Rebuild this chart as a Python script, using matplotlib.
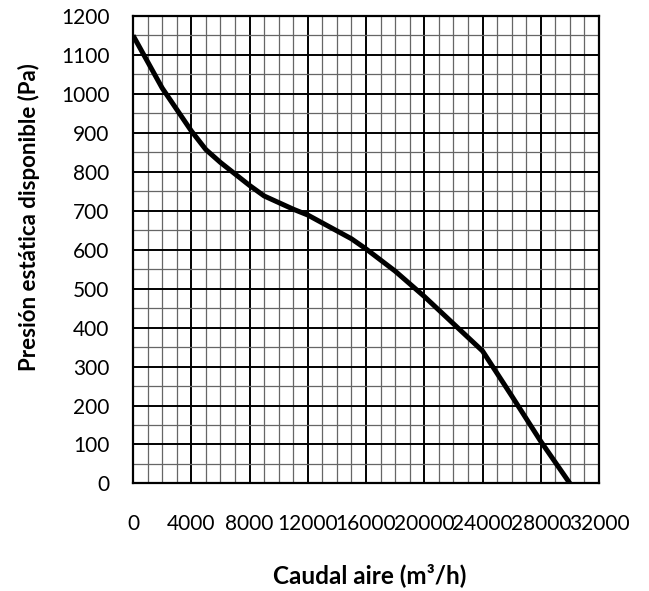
import matplotlib
matplotlib.use("Agg")
import matplotlib.pyplot as plt
from matplotlib.ticker import MultipleLocator

plt.rcParams['font.family'] = ['Lato', 'DejaVu Sans']

caudal = [0, 2000, 4000, 5000, 6000, 8000, 9000, 11000, 12000, 15000, 16000,
          18000, 20000, 22000, 24000, 26000, 28000, 30000]
presion = [1150, 1015, 905, 857, 824, 765, 738, 704, 689, 628, 602,
           545, 480, 410, 340, 225, 108, 0]

x_ticks = [0, 4000, 8000, 12000, 16000, 20000, 24000, 28000, 32000]
y_ticks = [0, 100, 200, 300, 400, 500, 600, 700, 800, 900, 1000, 1100, 1200]

fig = plt.figure(figsize=(6.49, 5.91), dpi=100)
ax = fig.add_axes([0.205, 0.182, 0.718, 0.791])

ax.set_xlim(0, 32000)
ax.set_ylim(0, 1200)
ax.set_xticks(x_ticks)
ax.set_yticks(y_ticks)
ax.xaxis.set_minor_locator(MultipleLocator(1000))
ax.yaxis.set_minor_locator(MultipleLocator(50))

ax.grid(which='minor', color='#666666', linewidth=0.9)
ax.grid(which='major', color='black', linewidth=1.4)
ax.set_axisbelow(True)

ax.plot(caudal, presion, color='black', linewidth=3.6, solid_joinstyle='round',
        solid_capstyle='butt', zorder=5)

for s in ax.spines.values():
    s.set_color('black')
    s.set_linewidth(1.6)

ax.tick_params(which='both', length=0)
ax.tick_params(axis='x', pad=22, labelsize=15)
ax.tick_params(axis='y', pad=17, labelsize=15)

fig.text(0.044, 0.633, 'Presión estática disponible (Pa)', rotation=90,
         ha='center', va='center', fontsize=16, fontweight='bold')
fig.text(0.569, 0.027, 'Caudal aire (m³/h)', ha='center', va='center',
         fontsize=17.5, fontweight='bold')

fig.savefig('out.png', dpi=100)
